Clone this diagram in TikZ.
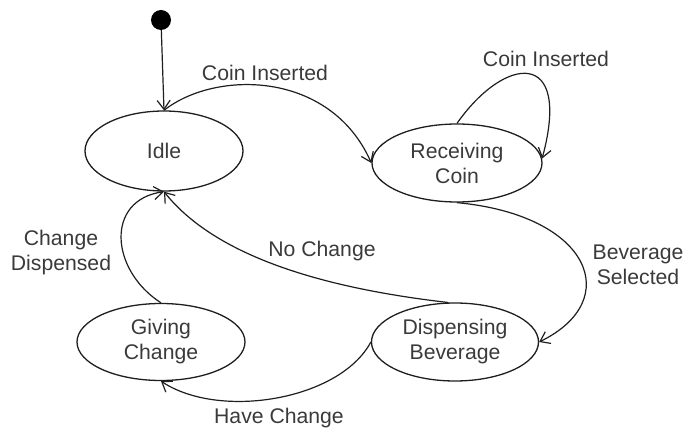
\documentclass[tikz,border=0pt]{standalone}
\usepackage{fontspec}
\setmainfont{Liberation Sans}
\usetikzlibrary{shapes.geometric,arrows.meta}

\definecolor{inkline}{HTML}{1E1E1E}
\definecolor{inktext}{HTML}{3A3A3A}

\tikzset{
  state/.style={ellipse, draw=inkline, line width=1.3pt, inner sep=0pt,
    text=inktext, align=center,
    font=\fontsize{21.2}{25}\selectfont},
  trans/.style={draw=inkline, line width=1.2pt,
    -{Straight Barb[length=9pt,width=13pt,line width=1.2pt]}},
  lbl/.style={text=inktext, align=center, inner sep=0pt,
    font=\fontsize{21.2}{25}\selectfont},
  startdot/.style={circle, fill=black, inner sep=0pt, minimum size=20pt}
}

\begin{document}
\begin{tikzpicture}[x=1pt,y=-1pt]
  \useasboundingbox (0,0) rectangle (686,430);

  % states
  \node[startdot] (init) at (161,20) {};
  \node[state, minimum width=158pt, minimum height=80pt] (idle) at (164,151) {Idle};
  \node[state, minimum width=170pt, minimum height=78pt] (recv) at (457,163) {Receiving\\Coin};
  \node[state, minimum width=167pt, minimum height=78pt] (disp) at (455,342) {Dispensing\\Beverage};
  \node[state, minimum width=168pt, minimum height=77pt] (give) at (161,342) {Giving\\Change};

  % transitions
  \draw[trans] (init) -- (idle.north);
  \draw[trans] (idle.north) .. controls (215,70) and (330,70) .. (recv.west);
  \draw[trans] (recv.north) .. controls (505,55) and (572,48) .. (recv.3);
  \draw[trans] (recv.south) .. controls (590,215) and (625,300) .. (disp.east);
  \draw[trans] (disp.100) .. controls (340,290) and (220,262) .. (idle.south);
  \draw[trans] (disp.west) .. controls (340,400) and (220,420) .. (give.south);
  \draw[trans] (give.north) .. controls (110,270) and (105,200) .. (idle.south);

  % labels
  \node[lbl] (l1) at (265,73) {Coin Inserted};
  \node[lbl] (l2) at (546,59) {Coin Inserted};
  \node[lbl] (l3) at (638,265) {Beverage\\Selected};
  \node[lbl] (l4) at (322,251) {No Change};
  \node[lbl] (l5) at (279,418) {Have Change};
  \node[lbl] (l6) at (61,253) {Change\\Dispensed};
\end{tikzpicture}
\end{document}
